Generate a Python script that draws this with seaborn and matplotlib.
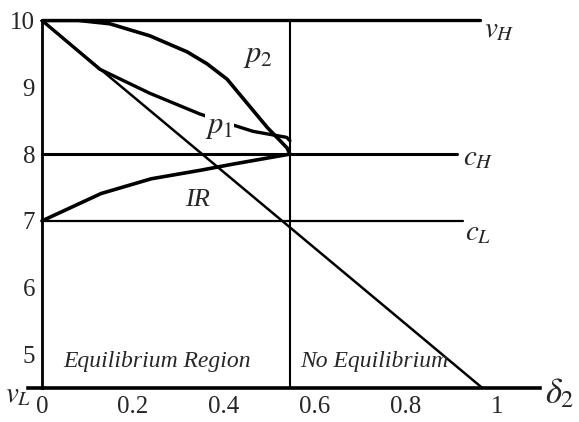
import matplotlib
matplotlib.use("Agg")
import matplotlib.pyplot as plt
import seaborn as sns

# === Levels (y) and cut-off (x) ===
v_H = 10
c_H = 8
c_L = 7
v_L = 4.5
delta_cut = 0.545

# === Curves ===
diag_x = [0, 0.968]
diag_y = [10, 4.5]

p1_x = [0, 0.127, 0.237, 0.347, 0.413, 0.464, 0.538, 0.545]
p1_y = [10, 9.27, 8.91, 8.60, 8.45, 8.34, 8.25, 8.2]

p2_x = [0, 0.08, 0.149, 0.237, 0.319, 0.363, 0.407, 0.451, 0.495, 0.539, 0.545]
p2_y = [10, 10, 9.95, 9.77, 9.53, 9.35, 9.12, 8.76, 8.40, 8.09, 8.0]

ir_x = [0, 0.13, 0.24, 0.35, 0.42, 0.545]
ir_y = [7, 7.41, 7.63, 7.76, 7.85, 8]

xticks = [0, 0.2, 0.4, 0.6, 0.8, 1]
xtick_labels = ["0", "0.2", "0.4", "0.6", "0.8", "1"]
yticks = [5, 6, 7, 8, 9, 10]
ytick_labels = ["5", "6", "7", "8", "9", "10"]

sns.set_style("white")
plt.rcParams["font.family"] = ["Liberation Serif", "DejaVu Serif"]
plt.rcParams["mathtext.fontset"] = "stix"

fig = plt.figure(figsize=(5.79, 4.22), dpi=100)
ax = fig.add_axes([0.0489, 0.0806, 0.884, 0.871])

# horizontal levels
ax.plot([0, 0.963], [v_H, v_H], color="black", lw=2.4, clip_on=False)
ax.plot([0, 0.912], [c_H, c_H], color="black", lw=2.2, clip_on=False)
ax.plot([0, 0.925], [c_L, c_L], color="black", lw=1.6, clip_on=False)
ax.plot([delta_cut, delta_cut], [v_L, v_H], color="black", lw=1.5, clip_on=False)

# curves
kw = dict(ax=ax, color="black", estimator=None, sort=False, legend=False)
sns.lineplot(x=diag_x, y=diag_y, lw=1.8, **kw)
sns.lineplot(x=p1_x, y=p1_y, lw=2.4, **kw)
sns.lineplot(x=p2_x, y=p2_y, lw=2.6, **kw)
sns.lineplot(x=ir_x, y=ir_y, lw=2.6, **kw)

ax.set_xlim(-0.03, 1.095)
ax.set_ylim(v_L, 10)
ax.set_xticks(xticks)
ax.set_xticklabels(xtick_labels)
ax.set_yticks(yticks)
ax.set_yticklabels(ytick_labels)
ax.tick_params(axis="both", length=0, labelsize=18)
ax.tick_params(axis="x", pad=6)
ax.tick_params(axis="y", pad=5)

for s in ["top", "right"]:
    ax.spines[s].set_visible(False)
ax.spines["left"].set_position(("data", 0))
ax.spines["left"].set_bounds(v_L, 10)
ax.spines["left"].set_linewidth(2.0)
ax.spines["bottom"].set_linewidth(2.6)
ax.spines["left"].set_color("black")
ax.spines["bottom"].set_color("black")

# labels
ax.text(0.475, 9.48, "$p_2$", fontsize=22, ha="center", va="center")
ax.text(0.39, 8.42, "$p_1$", fontsize=22, ha="center", va="center",
        bbox=dict(facecolor="white", edgecolor="none", pad=0.5))
ax.text(0.343, 7.32, "IR", fontsize=19, style="italic", ha="center", va="center")
ax.text(0.971, 9.86, "$v_H$", fontsize=21, ha="left", va="center")
ax.text(0.925, 7.94, "$c_H$", fontsize=21, ha="left", va="center")
ax.text(0.93, 6.82, "$c_L$", fontsize=21, ha="left", va="center")
ax.text(-0.081, 4.40, "$v_L$", fontsize=21, ha="left", va="center")
ax.text(1.138, 4.40, r"$\delta_2$", fontsize=25, ha="center", va="center")
ax.text(0.046, 4.90, "Equilibrium Region", fontsize=17, style="italic", ha="left", va="center")
ax.text(0.567, 4.90, "No Equilibrium", fontsize=17, style="italic", ha="left", va="center")

fig.savefig("out.png", dpi=100)
